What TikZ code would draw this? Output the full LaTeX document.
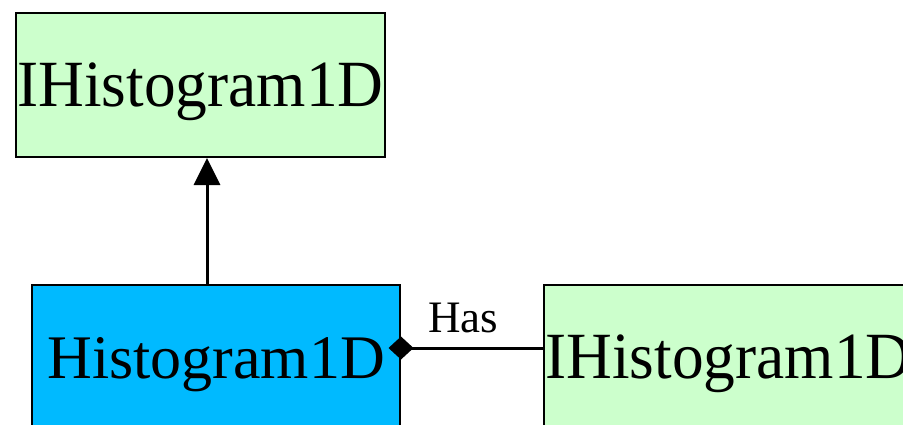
\documentclass[tikz,border=0pt]{standalone}
\usepackage{fontspec}
\setmainfont{Liberation Serif}
\usetikzlibrary{arrows.meta}
\definecolor{ifacegreen}{HTML}{CCFFCC}
\definecolor{implblue}{HTML}{00BAFF}
\tikzset{
  classbox/.style={draw=black, line width=2pt, minimum height=144pt,
    inner sep=0pt, text height=42pt, text depth=0pt, anchor=north west},
  iface/.style={classbox, fill=ifacegreen, minimum width=369pt,
    font=\fontsize{66}{66}\selectfont},
  impl/.style={classbox, fill=implblue, minimum width=368pt,
    font=\fontsize{62}{62}\selectfont},
  edge/.style={draw=black, line width=3pt},
}
\begin{document}
\begin{tikzpicture}[x=1pt, y=-1pt]
  \useasboundingbox (0,0) rectangle (903,424);
  \node[iface] (base) at (15,12) {\scalebox{0.96}[1]{IHistogram1D}};
  \node[impl] (hist) at (31,284) {Histogram1D};
  \node[iface] (part) at (543,284) {\scalebox{0.96}[1]{IHistogram1D}};
  % realisation: Histogram1D implements IHistogram1D
  \coordinate (upx) at (207,0);
  \draw[edge, -{Triangle[length=27pt, width=26pt]}]
    (hist.north -| upx) -- (base.south -| upx);
  % composition: Histogram1D has an IHistogram1D
  \coordinate (hasy) at (0,348);
  \draw[edge, {Diamond[length=25pt, width=23pt]}-, shorten <=-12.5pt]
    (hist.east |- hasy) -- (part.west |- hasy);
  \node[font=\fontsize{45}{45}\selectfont, anchor=base, inner sep=0pt]
    (haslabel) at (463,332) {Has};
\end{tikzpicture}
\end{document}
